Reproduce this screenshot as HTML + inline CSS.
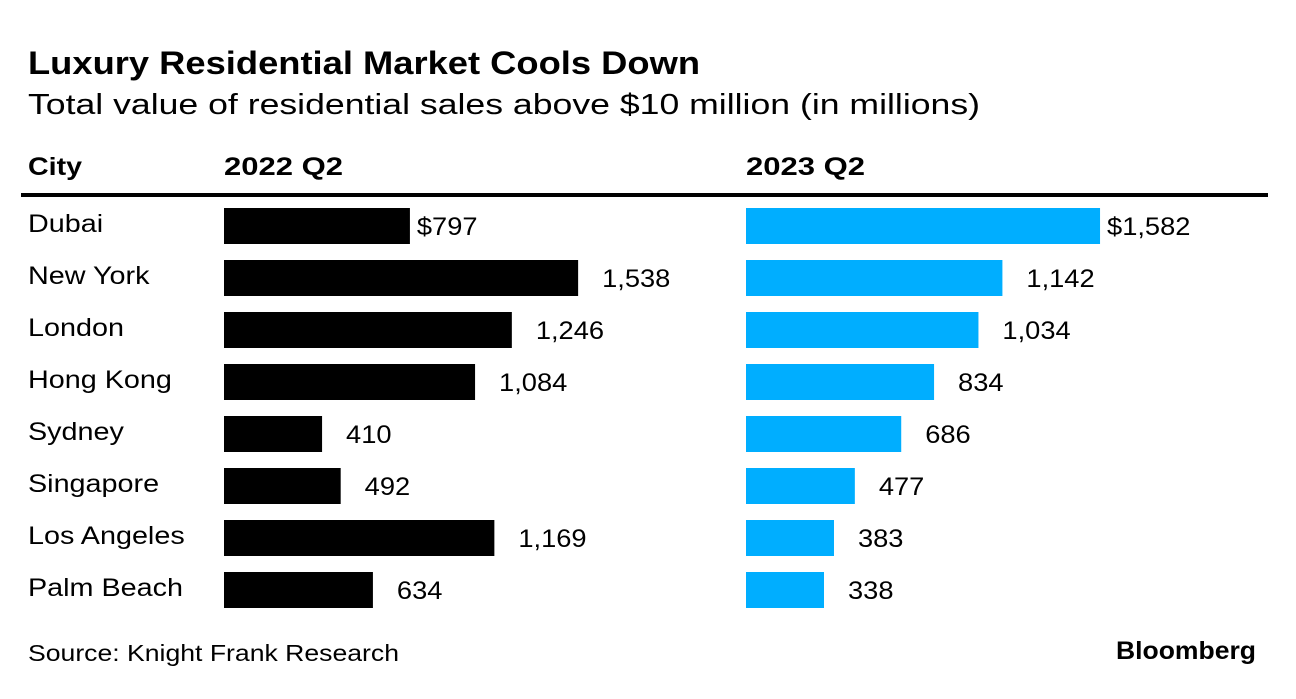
<!DOCTYPE html>
<html><head><meta charset="utf-8"><style>
body{margin:0;background:#fff;width:1296px;height:694px;overflow:hidden;font-family:"Liberation Sans",Arial,sans-serif;}
svg text{font-family:"Liberation Sans",Arial,sans-serif;}
</style></head><body>
<svg width="1296" height="694">
<text x="28" y="74" font-size="32" font-weight="bold" fill="#000" textLength="672" lengthAdjust="spacingAndGlyphs">Luxury Residential Market Cools Down</text>
<text x="28" y="114" font-size="29" fill="#000" textLength="952" lengthAdjust="spacingAndGlyphs">Total value of residential sales above $10 million (in millions)</text>
<text x="28" y="175" font-size="25" font-weight="bold" textLength="54" lengthAdjust="spacingAndGlyphs">City</text>
<text x="224" y="175" font-size="25" font-weight="bold" textLength="119" lengthAdjust="spacingAndGlyphs">2022 Q2</text>
<text x="746" y="175" font-size="25" font-weight="bold" textLength="119" lengthAdjust="spacingAndGlyphs">2023 Q2</text>
<rect x="21" y="193" width="1247" height="4" fill="#000"/>
<g id="rows"></g>
<text x="28" y="661" font-size="23" textLength="371" lengthAdjust="spacingAndGlyphs">Source: Knight Frank Research</text>
<text x="1256" y="659" font-size="25" font-weight="bold" text-anchor="end" textLength="140" lengthAdjust="spacingAndGlyphs">Bloomberg</text>
</svg>
<script>
const cities=["Dubai","New York","London","Hong Kong","Sydney","Singapore","Los Angeles","Palm Beach"];
const values2022=[797,1538,1246,1084,410,492,1169,634];
const values2023=[1582,1142,1034,834,686,477,383,338];
const ns="http://www.w3.org/2000/svg";
const g=document.getElementById('rows');
const x22=v=>5+v*0.227, x23=v=>3+v*0.2219;
const y=i=>208+i*52;
function mk(t,a){const e=document.createElementNS(ns,t);for(const k in a)e.setAttribute(k,a[k]);g.appendChild(e);return e;}
function stretch(e,f){const w=e.getComputedTextLength();e.setAttribute('textLength',(w*f).toFixed(1));e.setAttribute('lengthAdjust','spacingAndGlyphs');}
const fmt=(v,i)=>(i===0?"$":"")+v.toLocaleString("en-US");
cities.forEach((c,i)=>{
 let t=mk('text',{x:28,y:y(i)+24,'font-size':25});t.textContent=c;
 
 
 stretch(t,1.15);
 let w=x22(values2022[i]);
 let r=mk('rect',{x:224,y:y(i),width:w,height:36,fill:'#000'});
 
 
 let l=mk('text',{x:224+w+(i===0?7:24),y:y(i)+27,'font-size':25});l.textContent=fmt(values2022[i],i);
 
 
 stretch(l,1.09);
 let w2=x23(values2023[i]);
 let r2=mk('rect',{x:746,y:y(i),width:w2,height:36,fill:'#00aeff'});
 
 
 let l2=mk('text',{x:746+w2+(i===0?7:24),y:y(i)+27,'font-size':25});l2.textContent=fmt(values2023[i],i);
 
 
 stretch(l2,1.09);
});
</script>
</body></html>
